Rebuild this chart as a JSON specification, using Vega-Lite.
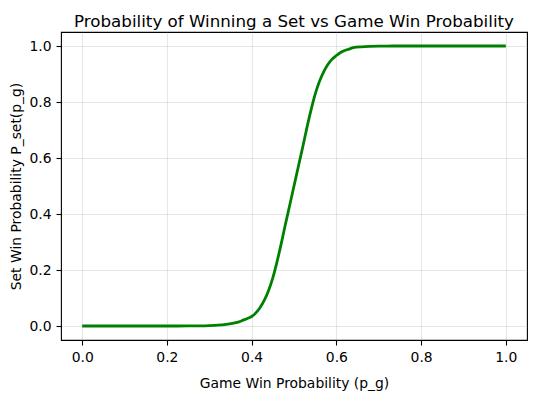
{
  "$schema": "https://vega.github.io/schema/vega-lite/v6.json",
  "width": 466,
  "height": 308,
  "autosize": "none",
  "padding": {"left": 61, "top": 32, "right": 9, "bottom": 53},
  "background": "white",
  "title": {
    "text": "Probability of Winning a Set vs Game Win Probability",
    "font": "DejaVu Sans",
    "fontSize": 16.7,
    "fontWeight": "normal",
    "color": "#000000",
    "anchor": "middle",
    "baseline": "alphabetic",
    "offset": 8,
    "dy": 20
  },
  "config": {
    "view": {"stroke": "#000000", "strokeWidth": 1.1},
    "axis": {
      "labelFont": "DejaVu Sans",
      "labelFontSize": 13.9,
      "labelColor": "#000000",
      "titleFont": "DejaVu Sans",
      "titleFontSize": 13.9,
      "titleFontWeight": "normal",
      "titleColor": "#000000",
      "tickColor": "#000000",
      "tickSize": 5,
      "tickWidth": 1.1,
      "labelPadding": 5,
      "domain": false,
      "grid": true,
      "gridColor": "#b0b0b0",
      "gridOpacity": 0.3,
      "gridWidth": 1.1
    }
  },
  "data": {
    "values": [
      {"p_g": 0.0, "p_set": 0.0},
      {"p_g": 0.05, "p_set": 0.0},
      {"p_g": 0.1, "p_set": 0.0},
      {"p_g": 0.15, "p_set": 0.0},
      {"p_g": 0.2, "p_set": 0.0},
      {"p_g": 0.25, "p_set": 0.0002},
      {"p_g": 0.28, "p_set": 0.0006},
      {"p_g": 0.3, "p_set": 0.0015},
      {"p_g": 0.32, "p_set": 0.003},
      {"p_g": 0.34, "p_set": 0.006},
      {"p_g": 0.36, "p_set": 0.011},
      {"p_g": 0.37, "p_set": 0.015},
      {"p_g": 0.38, "p_set": 0.021},
      {"p_g": 0.39, "p_set": 0.027},
      {"p_g": 0.4, "p_set": 0.034},
      {"p_g": 0.41, "p_set": 0.047},
      {"p_g": 0.42, "p_set": 0.066},
      {"p_g": 0.43, "p_set": 0.092},
      {"p_g": 0.44, "p_set": 0.127},
      {"p_g": 0.45, "p_set": 0.172},
      {"p_g": 0.46, "p_set": 0.23},
      {"p_g": 0.47, "p_set": 0.295},
      {"p_g": 0.48, "p_set": 0.365},
      {"p_g": 0.49, "p_set": 0.432},
      {"p_g": 0.5, "p_set": 0.5},
      {"p_g": 0.51, "p_set": 0.568},
      {"p_g": 0.52, "p_set": 0.635},
      {"p_g": 0.53, "p_set": 0.705},
      {"p_g": 0.54, "p_set": 0.77},
      {"p_g": 0.55, "p_set": 0.828},
      {"p_g": 0.56, "p_set": 0.873},
      {"p_g": 0.57, "p_set": 0.908},
      {"p_g": 0.58, "p_set": 0.934},
      {"p_g": 0.59, "p_set": 0.953},
      {"p_g": 0.6, "p_set": 0.966},
      {"p_g": 0.61, "p_set": 0.977},
      {"p_g": 0.62, "p_set": 0.984},
      {"p_g": 0.63, "p_set": 0.989},
      {"p_g": 0.64, "p_set": 0.994},
      {"p_g": 0.66, "p_set": 0.997},
      {"p_g": 0.68, "p_set": 0.9985},
      {"p_g": 0.7, "p_set": 0.9994},
      {"p_g": 0.72, "p_set": 0.9998},
      {"p_g": 0.75, "p_set": 1.0},
      {"p_g": 0.8, "p_set": 1.0},
      {"p_g": 0.85, "p_set": 1.0},
      {"p_g": 0.9, "p_set": 1.0},
      {"p_g": 0.95, "p_set": 1.0},
      {"p_g": 1.0, "p_set": 1.0}
    ]
  },
  "mark": {"type": "line", "color": "#008000", "strokeWidth": 2.8, "interpolate": "monotone"},
  "encoding": {
    "x": {
      "field": "p_g",
      "type": "quantitative",
      "scale": {"domain": [-0.05, 1.05], "nice": false, "zero": false},
      "axis": {
        "title": "Game Win Probability (p_g)",
        "values": [0, 0.2, 0.4, 0.6, 0.8, 1.0],
        "format": ".1f",
        "labelBaseline": "top",
        "titleBaseline": "alphabetic",
        "titleY": 47
      }
    },
    "y": {
      "field": "p_set",
      "type": "quantitative",
      "scale": {"domain": [-0.05, 1.05], "nice": false, "zero": false},
      "axis": {
        "title": "Set Win Probability P_set(p_g)",
        "values": [0, 0.2, 0.4, 0.6, 0.8, 1.0],
        "format": ".1f",
        "labelBaseline": "middle",
        "titleBaseline": "alphabetic",
        "titleX": -41,
        "titleY": 154
      }
    }
  }
}
